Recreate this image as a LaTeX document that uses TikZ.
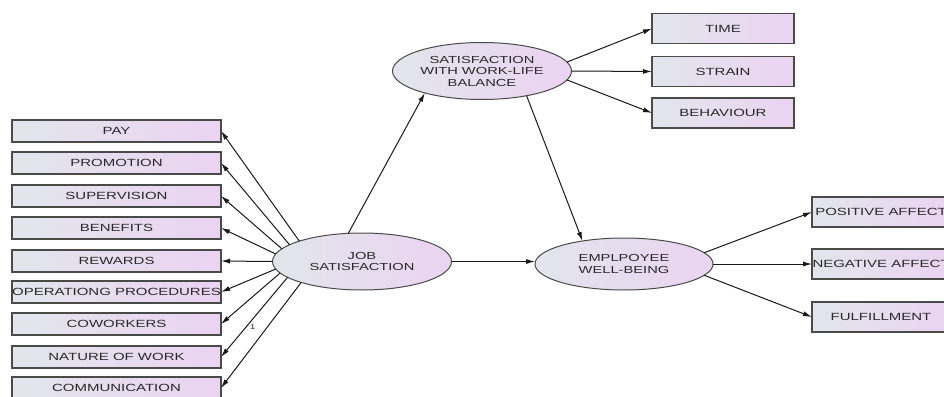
\documentclass[tikz,border=0pt]{standalone}
\usepackage{fontspec}
\newfontfamily\diagfont[FakeStretch=1.44]{Liberation Sans}
\usetikzlibrary{arrows.meta,shapes.geometric}
\definecolor{fillL}{HTML}{E2E6EC}
\definecolor{fillR}{HTML}{EBD3F1}
\definecolor{edgeC}{HTML}{4A4A4A}
\definecolor{txtC}{HTML}{2A2A2A}
\tikzset{
  obsbox/.style={draw=edgeC, line width=1.2pt, left color=fillL, right color=fillR,
    rectangle, inner sep=0pt, outer sep=0pt, minimum height=22pt, minimum width=209pt,
    text=txtC, font=\diagfont\fontsize{10.4}{12}\selectfont},
  tallbox/.style={obsbox, minimum height=30pt},
  latent/.style={draw=edgeC, line width=1pt, left color=fillL, right color=fillR,
    ellipse, inner sep=0pt, outer sep=0pt, minimum width=179pt, minimum height=57pt,
    align=center, text=txtC, font=\diagfont\fontsize{10.2}{11.5}\selectfont},
  path/.style={draw=black!90, line width=1pt, -{Latex[length=9pt,width=5pt]}},
  wlabel/.style={text=txtC, font=\diagfont\fontsize{7}{8}\selectfont, inner sep=1pt}
}
\begin{document}
\begin{tikzpicture}[x=1pt,y=-1pt]
\useasboundingbox (0,0) rectangle (944,396);
% latent variables
\node[latent] (js) at (362,261.5) {JOB\\SATISFACTION};
\node[latent] (wlb) at (482,71) {SATISFACTION\\WITH WORK-LIFE\\BALANCE};
\node[latent, minimum width=178pt, minimum height=52pt] (ewb) at (624,264) {EMPLPOYEE\\WELL-BEING};
% left indicators
\node[obsbox] (pay) at (116.5,131) {PAY};
\node[obsbox] (prom) at (116.5,163) {PROMOTION};
\node[obsbox] (sup) at (116.5,196) {SUPERVISION};
\node[obsbox] (ben) at (116.5,228) {BENEFITS};
\node[obsbox] (rew) at (116.5,261) {REWARDS};
\node[obsbox] (ops) at (116.5,292) {OPERATIONG PROCEDURES};
\node[obsbox] (cow) at (116.5,324) {COWORKERS};
\node[obsbox] (nat) at (116.5,357) {NATURE OF WORK};
\node[obsbox] (com) at (116.5,388) {COMMUNICATION};
% top indicators
\node[tallbox, minimum width=142pt] (time) at (723,28.5) {TIME};
\node[tallbox, minimum width=142pt] (strain) at (723,71.5) {STRAIN};
\node[tallbox, minimum width=142pt] (beh) at (723,113) {BEHAVIOUR};
% right indicators
\node[tallbox, minimum width=138pt] (pos) at (881,212) {POSITIVE AFFECT};
\node[tallbox, minimum width=138pt] (neg) at (881,264) {NEGATIVE AFFECT};
\node[tallbox, minimum width=138pt] (ful) at (881,317) {FULFILLMENT};
% job satisfaction loadings
\draw[path] (js.162) -- (pay.east);
\draw[path] (js.167) -- (prom.east);
\draw[path] (js.171.5) -- (sup.east);
\draw[path] (js.175.5) -- (ben.east);
\draw[path] (js.west) -- (rew.east);
\draw[path] (js.185) -- (ops.east);
\draw[path] (js.188.5) -- (cow.east);
\draw[path] (js.192.5) -- node[wlabel, pos=0.62, anchor=west, xshift=2pt] (one) {1} (nat.east);
\draw[path] (js.199) -- (com.east);
% structural paths
\draw[path] (js.116) -- (wlb.201);
\draw[path] (js.east) -- (js.east -| ewb.west);
\draw[path] (wlb.331) -- (ewb.151);
% work-life balance loadings
\draw[path] (wlb.6) -- (time.west);
\draw[path] (wlb.east) -- (strain.west);
\draw[path] (wlb.-6) -- (beh.west);
% well-being loadings
\draw[path] (ewb.8) -- (pos.west);
\draw[path] (ewb.east) -- (neg.west);
\draw[path] (ewb.-8) -- (ful.west);
\end{tikzpicture}
\end{document}
